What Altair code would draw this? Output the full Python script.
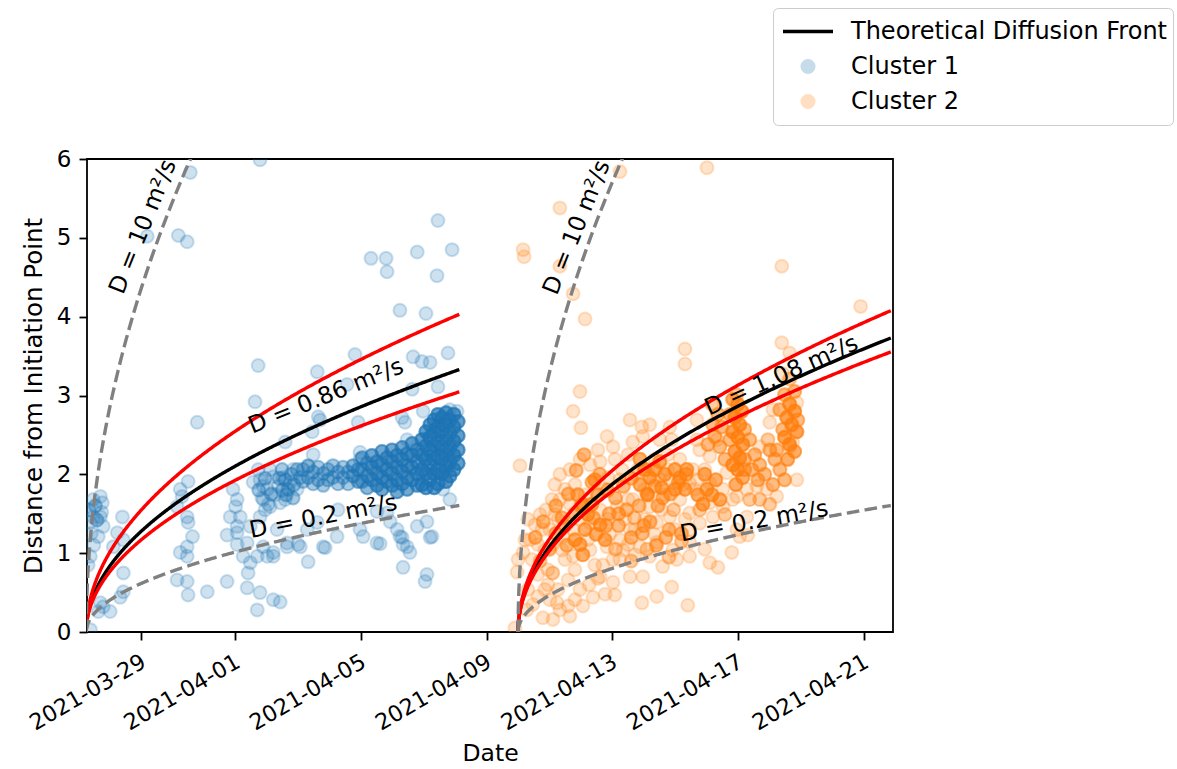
import altair as alt
import numpy as np
import pandas as pd

ORIGIN = pd.Timestamp("2021-03-27 00:00")

# ---------------------------------------------------------------------------
# Events: days after 2021-03-27 00:00 and distance from initiation point (km)
# ---------------------------------------------------------------------------
c1_day = [0.32, 0.39, 0.39, 0.48, 0.71, 0.77, 0.71, 0.80, 0.64, 0.48, 0.39, 0.71, 0.80, 1.02, 0.64,
          1.41, 1.25, 1.44, 1.12, 1.44, 1.44, 1.34, 2.20, 3.19, 3.47, 3.57, 3.79, 3.25, 3.31, 3.50,
          3.15, 3.47, 3.50, 3.64, 3.47, 3.25, 3.47, 3.15, 3.47, 3.50, 4.11, 4.74, 5.79, 5.73, 5.63,
          4.93, 5.06, 4.84, 5.06, 4.74, 5.06, 5.25, 5.48, 5.41, 5.38, 5.79, 5.70, 6.21, 6.02, 6.21,
          6.65, 5.01, 5.16, 5.06, 5.57, 5.89, 6.21, 6.37, 5.89, 6.11, 5.79, 6.43, 6.75, 6.97, 7.29,
          7.61, 6.33, 6.65, 7.07, 7.80, 8.24, 8.97, 9.51, 10.24, 10.47, 11.20, 5.89, 5.48, 5.38, 6.21,
          5.70, 7.61, 8.81, 10.66, 10.94, 11.20, 11.77, 10.63, 11.45, 6.59, 7.45, 7.70, 8.91, 7.48, 8.97,
          10.40, 10.31, 10.98, 11.83, 12.06, 10.47, 11.20, 11.45, 10.79, 11.90, 9.32, 9.80, 9.83, 11.42, 10.24,
          11.07, 8.27, 7.00, 7.86, 7.32, 9.07, 9.61, 10.15, 10.31, 10.34, 10.56, 11.10, 11.26, 10.79, 10.34,
          11.10, 11.04, 11.83, 11.61, 6.43, 9.83, 9.93, 9.51, 8.56, 7.64, 6.84, 7.32, 8.97, 5.79, 6.02,
          6.27, 6.52, 6.11, 5.73, 6.59, 5.95]
c1_km = [0.85, 0.96, 1.39, 1.46, 1.72, 1.64, 1.46, 1.34, 1.21, 1.68, 0.03, 0.37, 0.32, 0.26, 0.26,
         1.46, 1.26, 1.17, 1.08, 0.75, 0.51, 0.44, 5.02, 5.03, 4.95, 5.83, 2.66, 1.81, 1.72, 1.91,
         1.59, 1.46, 1.39, 1.21, 1.08, 1.01, 0.96, 0.66, 0.64, 0.47, 0.51, 0.64, 5.99, 3.38, 2.92,
         1.81, 1.68, 1.46, 1.34, 1.23, 1.11, 0.96, 0.88, 0.75, 0.56, 0.50, 0.28, 0.41, 0.96, 1.01,
         1.08, 1.59, 1.46, 1.26, 1.90, 1.85, 1.97, 1.85, 1.68, 1.59, 1.46, 1.64, 1.90, 1.81, 1.30,
         1.39, 1.30, 1.13, 1.08, 1.08, 1.21, 1.30, 1.13, 1.21, 1.08, 1.20, 1.08, 1.34, 1.13, 0.96,
         0.96, 3.30, 3.52, 3.49, 3.43, 3.42, 3.54, 3.08, 3.11, 2.41, 2.54, 2.69, 2.66, 2.25, 2.19,
         2.66, 2.72, 2.80, 2.82, 2.80, 2.44, 2.44, 5.22, 4.82, 4.85, 4.74, 4.74, 4.57, 4.52, 4.08,
         4.04, 1.55, 1.11, 1.07, 0.89, 1.21, 1.12, 1.30, 1.20, 1.11, 1.01, 1.40, 1.21, 1.34, 0.82,
         0.73, 0.64, 1.68, 1.81, 0.38, 1.51, 1.40, 1.53, 3.14, 2.73, 2.06, 2.10, 2.28, 1.93, 1.81,
         1.74, 1.96, 2.06, 2.06, 1.68, 1.55]

# Tightly packed events: position and how many events sit there
c1_dense_day = [0.35, 0.55, 0.60, 0.42, 0.75, 0.50,
                5.75, 5.95, 6.15, 6.40, 6.05, 6.50, 5.85,
                6.49, 6.59, 6.68, 6.78, 6.87, 6.97, 7.07, 6.62, 6.84,
                7.16, 7.16, 7.32, 7.32, 7.48, 7.48, 7.64, 7.64, 7.80, 7.80, 7.95, 7.95,
                8.11, 8.11, 8.27, 8.27, 8.43, 8.43, 8.59, 8.59, 8.75, 8.75, 8.91, 8.91,
                9.04, 9.04, 9.04, 9.20, 9.20, 9.20, 9.35, 9.35, 9.35, 9.51, 9.51, 9.51,
                9.67, 9.67, 9.67, 9.67, 9.83, 9.83, 9.83, 9.99, 9.99, 9.99, 9.99,
                10.15, 10.15, 10.15, 10.15, 10.31, 10.31, 10.31, 10.31, 10.47, 10.47, 10.47, 10.47,
                10.63, 10.63, 10.63, 10.63, 10.79, 10.79, 10.79, 10.79,
                10.94, 10.94, 10.94, 10.94, 11.07, 11.07, 11.07, 11.07, 11.07,
                11.20, 11.20, 11.20, 11.20, 11.20, 11.33, 11.33, 11.33, 11.33, 11.33, 11.33,
                11.45, 11.45, 11.45, 11.45, 11.45, 11.45, 11.58, 11.58, 11.58, 11.58, 11.58,
                11.71, 11.71, 11.71, 11.71, 11.71, 11.71, 11.83, 11.83, 11.83, 11.83, 11.83,
                11.96, 11.96, 11.96, 11.96, 11.96, 12.09, 12.09, 12.09, 12.09]
c1_dense_km = [1.55, 1.60, 1.42, 1.25, 1.52, 1.10,
               1.80, 1.95, 1.75, 1.95, 1.62, 1.80, 1.70,
               2.06, 1.93, 1.81, 2.00, 1.87, 2.06, 1.96, 1.74, 1.70,
               2.06, 1.91, 2.11, 1.96, 2.03, 1.88, 2.09, 1.93, 2.01, 1.86, 2.06, 1.93,
               2.11, 1.96, 2.03, 1.88, 2.09, 1.96, 2.03, 1.88, 2.11, 1.98, 2.06, 1.91,
               2.21, 2.06, 1.91, 2.14, 1.98, 1.83, 2.24, 2.09, 1.93, 2.16, 2.01, 1.86,
               2.29, 2.12, 1.96, 1.81, 2.21, 2.06, 1.91, 2.31, 2.16, 2.01, 1.86,
               2.24, 2.09, 1.93, 1.78, 2.34, 2.19, 2.04, 1.88, 2.26, 2.11, 1.96, 1.81,
               2.39, 2.24, 2.09, 1.93, 2.31, 2.16, 2.01, 1.86,
               2.44, 2.25, 2.06, 1.87, 2.54, 2.36, 2.19, 2.01, 1.83,
               2.63, 2.47, 2.29, 2.11, 1.93, 2.69, 2.53, 2.36, 2.19, 2.01, 1.83,
               2.76, 2.60, 2.42, 2.24, 2.06, 1.88, 2.72, 2.54, 2.36, 2.19, 2.01,
               2.78, 2.62, 2.44, 2.26, 2.09, 1.91, 2.69, 2.52, 2.34, 2.16, 1.98,
               2.76, 2.60, 2.42, 2.24, 2.06, 2.67, 2.49, 2.31, 2.14]
c1_dense_n = [2, 2, 2, 1, 1, 1,
              2, 2, 2, 2, 1, 2, 1,
              2, 2, 2, 2, 2, 2, 2, 2, 2,
              2, 2, 2, 2, 2, 2, 2, 2, 2, 2, 2, 2,
              2, 2, 2, 2, 2, 2, 2, 2, 3, 3, 3, 3,
              3, 3, 3, 3, 3, 3, 4, 4, 4, 4, 4, 4,
              4, 4, 4, 4, 4, 4, 4, 4, 4, 4, 4,
              4, 4, 4, 4, 4, 4, 4, 4, 4, 4, 4, 4,
              4, 4, 4, 4, 4, 4, 4, 4,
              5, 5, 5, 5, 5, 5, 5, 5, 5,
              5, 5, 5, 5, 5, 5, 5, 5, 5, 5, 5,
              5, 5, 5, 5, 5, 5, 5, 5, 5, 5, 5,
              5, 5, 5, 5, 5, 5, 5, 5, 5, 5, 5,
              5, 5, 5, 5, 5, 5, 5, 5, 5]

c2_day = [14.16, 14.19, 15.33, 15.33, 15.75, 16.13, 17.24, 20.01, 19.31, 19.31, 15.97, 15.75, 16.00,
          22.39, 24.90, 22.39, 22.64, 14.06, 16.61, 16.83, 17.02, 17.94, 17.97, 17.65, 18.83, 18.89,
          13.90, 14.00, 13.97, 14.16, 14.38, 14.54, 14.70, 14.31, 14.47, 14.63, 14.85, 14.79, 15.11,
          15.01, 14.95, 14.85, 15.01, 15.17, 15.33, 15.11, 15.27, 15.24, 15.43, 15.49, 15.59, 15.59,
          15.65, 16.06, 15.97, 15.81, 15.75, 15.75, 15.65, 15.49, 15.81, 15.33, 15.17, 16.13, 15.97,
          16.22, 16.29, 16.29, 16.44, 16.54, 16.61, 16.38, 16.77, 16.61, 16.77, 16.86, 16.92, 16.83,
          17.02, 17.02, 17.15, 17.24, 17.24, 17.34, 17.40, 17.50, 17.56, 17.56, 17.65, 17.72, 17.81,
          17.88, 17.94, 17.97, 18.03, 18.13, 18.19, 18.19, 18.29, 18.35, 18.41, 18.41, 18.41, 18.51,
          18.60, 18.67, 18.76, 18.83, 18.83, 18.89, 18.92, 19.05, 19.15, 19.24, 19.40, 19.46, 19.46,
          19.46, 19.46, 19.46, 19.56, 19.62, 19.69, 19.78, 19.78, 19.94, 19.94, 20.10, 20.10, 20.10,
          20.10, 20.20, 20.33, 20.36, 20.52, 20.52, 20.64, 20.80, 20.83, 20.96, 20.96, 21.05, 21.28,
          21.28, 21.31, 21.60, 21.69, 21.92, 22.01, 22.11, 22.23, 22.64, 22.74, 22.87, 22.87,
          14.22, 14.31, 14.44, 14.63, 14.76, 14.89, 15.08, 15.27, 15.40, 14.95, 14.63, 14.28, 15.33,
          15.81, 16.26, 16.70, 17.08, 17.24, 17.50, 17.72, 18.03, 18.35, 18.57, 18.99, 19.31,
          16.54, 16.29, 17.08, 17.31, 17.50, 17.72, 16.86, 15.97, 15.65,
          17.56, 18.19, 18.51, 18.76, 19.15, 19.69, 19.69]
c2_km = [4.85, 4.76, 5.38, 4.64, 4.29, 3.97, 5.84, 5.89, 3.59, 3.40, 3.05, 2.80, 2.59,
         4.64, 4.13, 3.67, 3.54, 2.11, 2.16, 2.48, 2.35, 2.60, 2.48, 2.41, 2.60, 2.44,
         0.05, 0.92, 0.76, 1.01, 1.17, 1.36, 1.49, 0.54, 0.35, 0.45, 0.54, 0.18, 0.16,
         0.41, 0.79, 1.04, 1.30, 1.49, 1.68, 1.11, 0.54, 0.37, 1.21, 0.92, 0.66, 0.33,
         0.20, 0.33, 0.54, 0.79, 1.30, 0.96, 1.62, 1.81, 1.87, 2.00, 1.87, 1.74, 1.43,
         1.17, 1.39, 1.04, 0.85, 0.68, 0.70, 0.44, 0.48, 1.55, 1.81, 1.43, 1.24, 1.08,
         0.92, 0.63, 1.59, 1.93, 1.17, 1.04, 1.43, 1.68, 1.30, 0.70, 1.68, 0.98, 2.06,
         1.08, 0.37, 0.70, 1.81, 2.06, 1.59, 0.96, 1.93, 2.19, 1.39, 1.14, 0.45, 1.93,
         0.83, 1.74, 2.06, 1.93, 1.46, 0.57, 1.04, 0.92, 1.68, 1.87, 0.34, 1.89, 1.51,
         1.14, 1.30, 0.96, 2.06, 1.81, 1.93, 2.31, 1.38, 2.06, 1.05, 2.23, 1.89, 1.64,
         0.88, 1.46, 2.44, 0.82, 1.81, 1.59, 2.02, 1.01, 1.68, 1.72, 1.30, 1.21, 1.81,
         1.46, 1.23, 1.85, 2.35, 1.81, 2.66, 2.82, 1.72, 2.34, 2.41, 2.91, 1.93,
         1.17, 1.43, 0.92, 1.11, 1.30, 1.55, 1.68, 1.43, 1.04, 0.60, 0.73, 0.28, 0.28,
         0.41, 0.60, 0.85, 0.47, 0.92, 1.11, 1.30, 1.43, 1.24, 1.55, 1.30, 1.43,
         2.31, 2.12, 2.19, 2.06, 2.25, 2.00, 1.96, 2.19, 2.06,
         2.69, 2.63, 2.44, 2.25, 2.19, 2.44, 2.69]

c2_dense_day = [20.83, 20.99, 21.12, 20.90, 21.05, 20.83, 20.99, 21.15, 20.90, 21.05, 20.83, 20.99,
                21.15, 20.93, 20.74, 21.21, 20.74, 21.21, 20.96,
                22.64, 22.80, 22.55, 22.71, 22.87, 22.48, 22.64, 22.80, 22.58, 22.42, 22.64, 22.80,
                22.48, 22.33, 22.42, 22.90, 22.23, 22.33, 22.48,
                20.17, 20.36, 20.48, 20.26, 20.42, 20.58, 20.20, 20.04,
                21.37, 21.53, 21.69, 21.85, 22.01, 22.17, 21.44, 21.63, 21.95, 22.11, 21.21, 21.37,
                21.69, 22.01,
                19.72, 19.88, 20.01, 20.17, 20.29, 20.42, 20.58, 19.78, 19.94,
                17.88, 18.03, 18.19, 18.35, 18.51, 18.67, 18.99, 19.15, 19.31, 19.37, 18.99, 18.57,
                18.13, 17.88,
                15.90, 16.06, 16.22, 16.13, 15.97, 16.35, 16.48, 16.06, 15.81, 16.61, 16.77, 16.44,
                16.54,
                14.55, 14.80, 15.00, 15.20, 15.40, 15.55, 14.70, 15.10,
                16.90, 17.20, 17.45, 17.70, 17.95, 18.20, 18.45, 18.70, 18.95, 19.20, 17.10, 17.60,
                18.10, 18.80,
                15.60, 15.85, 16.10, 16.35, 16.60, 16.85, 17.10, 17.35, 17.60, 17.85, 18.10, 18.35,
                18.60, 18.85, 19.10, 19.35, 16.00, 16.40, 16.80, 17.20, 17.60, 18.00, 18.40, 18.80,
                19.20, 15.20, 15.50, 15.80]
c2_dense_km = [2.95, 2.89, 2.80, 2.72, 2.63, 2.54, 2.47, 2.38, 2.29, 2.21, 2.12, 2.06,
               1.96, 1.87, 2.44, 2.57, 2.76, 2.19, 3.01,
               2.89, 2.80, 2.72, 2.63, 2.54, 2.47, 2.38, 2.29, 2.19, 3.28, 3.21, 3.05,
               3.01, 2.82, 2.57, 2.69, 2.31, 2.06, 1.93,
               2.89, 2.76, 2.60, 2.48, 2.35, 2.19, 2.63, 2.38,
               2.44, 2.25, 2.12, 2.00, 2.31, 2.19, 2.06, 1.93, 2.44, 1.87, 2.06, 1.68,
               1.68, 1.62,
               1.74, 1.62, 1.81, 1.74, 1.93, 1.68, 1.49, 1.55, 2.00,
               2.19, 2.06, 1.96, 2.06, 2.16, 2.00, 2.06, 1.96, 1.81, 2.06, 1.81, 1.83,
               1.74, 1.87,
               1.74, 1.62, 1.49, 1.30, 1.11, 1.62, 1.24, 0.98, 1.17, 1.36, 1.17, 1.93,
               1.74,
               1.20, 1.40, 1.05, 1.25, 1.45, 1.10, 0.90, 0.75,
               1.50, 1.35, 1.55, 1.45, 1.25, 1.40, 1.60, 1.20, 1.55, 1.15, 1.05, 0.90,
               1.05, 0.95,
               1.75, 2.05, 2.25, 1.90, 2.00, 1.80, 1.70, 1.85, 1.95, 1.60, 1.75, 1.85,
               1.70, 1.75, 1.90, 2.00, 1.60, 1.45, 1.35, 1.50, 1.20, 1.35, 1.10, 1.30,
               1.25, 1.60, 1.35, 1.50]
c2_dense_n = [4, 5, 5, 5, 5, 5, 5, 5, 5, 5, 5, 5,
              4, 4, 3, 3, 3, 3, 2,
              5, 5, 5, 5, 5, 5, 5, 4, 4, 1, 2, 3,
              3, 3, 3, 3, 3, 3, 3,
              2, 3, 3, 3, 3, 3, 3, 3,
              3, 3, 3, 3, 3, 3, 3, 3, 2, 3, 3, 2,
              2, 2,
              4, 4, 4, 4, 4, 4, 2, 2, 4,
              4, 4, 4, 4, 4, 4, 4, 4, 4, 4, 4, 4,
              4, 4,
              4, 4, 4, 4, 4, 4, 4, 4, 4, 4, 4, 4,
              4,
              3, 3, 3, 3, 3, 3, 2, 2,
              3, 3, 3, 2, 3, 3, 3, 3, 2, 2, 2, 2,
              2, 2,
              3, 3, 3, 3, 3, 3, 3, 3, 3, 3, 3, 3,
              3, 3, 3, 3, 3, 3, 3, 3, 3, 3, 3, 3,
              3, 3, 3, 3]

# ---------------------------------------------------------------------------
# Diffusion fronts r = sqrt(4 * pi * D * t), D in m^2/s
# ---------------------------------------------------------------------------
c1_start_day, c1_end_day = 0.26, 12.13
c2_start_day, c2_end_day = 14.00, 25.86
c1_fit_D = 0.86
c1_bound_D = [1.26, 0.72]
c2_fit_D = 1.08
c2_bound_D = [1.29, 0.98]
reference_D = [10, 0.2]

tick_dates = ["2021-03-29", "2021-04-01", "2021-04-05", "2021-04-09",
              "2021-04-13", "2021-04-17", "2021-04-21"]
x_min_day, x_max_day = 0.283, 25.93
y_ticks = [0, 1, 2, 3, 4, 5, 6]

# Curve annotations
note_text = ["D = 10 m²/s", "D = 0.86 m²/s", "D = 0.2 m²/s",
             "D = 10 m²/s", "D = 1.08 m²/s", "D = 0.2 m²/s"]
note_day = [2.07, 7.89, 7.80, 15.87, 22.38, 21.51]
note_km = [5.14, 2.99, 1.46, 5.13, 3.25, 1.40]
note_angle = [292, 338, 349, 292, 336, 350]

FRONT = "Theoretical Diffusion Front"
series_names = [FRONT, "Cluster 1", "Cluster 2"]
series_colors = ["black", "#1f77b4", "#ff7f0e"]
FONT = "DejaVu Sans"


def to_time(days):
    return ORIGIN + pd.to_timedelta(np.asarray(days, dtype=float), unit="D")


def to_dt(ts):
    return alt.DateTime(year=ts.year, month=ts.month, date=ts.day,
                        hours=ts.hour, minutes=ts.minute, seconds=ts.second)


def events(day, km, count, name):
    df = pd.DataFrame({"day": day, "km": km, "n": count})
    df = df.loc[df.index.repeat(df["n"])].reset_index(drop=True)
    return pd.DataFrame({"time": to_time(df["day"]), "km": df["km"], "series": name})


def front(D, start, end, name):
    u = np.linspace(0.0, 1.0, 400) ** 2
    days = start + (end - start) * u
    seconds = (days - start) * 86400.0
    return pd.DataFrame({"time": to_time(days),
                         "km": np.sqrt(4 * np.pi * D * seconds) / 1000.0,
                         "curve": name})


points = pd.concat([
    events(c1_day, c1_km, [1] * len(c1_day), "Cluster 1"),
    events(c1_dense_day, c1_dense_km, c1_dense_n, "Cluster 1"),
    events(c2_day, c2_km, [1] * len(c2_day), "Cluster 2"),
    events(c2_dense_day, c2_dense_km, c2_dense_n, "Cluster 2"),
], ignore_index=True)

fit = pd.concat([front(c1_fit_D, c1_start_day, c1_end_day, "c1"),
                 front(c2_fit_D, c2_start_day, c2_end_day, "c2")], ignore_index=True)
fit["series"] = FRONT

bounds = pd.concat(
    [front(D, c1_start_day, c1_end_day, f"c1-{D}") for D in c1_bound_D]
    + [front(D, c2_start_day, c2_end_day, f"c2-{D}") for D in c2_bound_D],
    ignore_index=True)

refs = pd.concat(
    [front(D, c1_start_day, c1_end_day, f"c1-{D}") for D in reference_D]
    + [front(D, c2_start_day, c2_end_day, f"c2-{D}") for D in reference_D],
    ignore_index=True)

notes = pd.DataFrame({"time": to_time(note_day), "km": note_km,
                      "text": note_text, "angle": note_angle})

# ---------------------------------------------------------------------------
# Encodings
# ---------------------------------------------------------------------------
x_enc = alt.X("time:T", title="Date",
              scale=alt.Scale(domain=[to_dt(to_time([x_min_day])[0]),
                                      to_dt(to_time([x_max_day])[0])]),
              axis=alt.Axis(values=[to_dt(pd.Timestamp(d)) for d in tick_dates],
                            format="%Y-%m-%d", labelAngle=330, labelAlign="right",
                            labelBaseline="top", labelPadding=10, labelOffset=-3,
                            labelFontSize=22.3,
                            labelOverlap=False, labelBound=False, labelFlush=False,
                            titleFontSize=23.5, titlePadding=7))
y_enc = alt.Y("km:Q", title="Distance from Initiation Point",
              scale=alt.Scale(domain=[0, 6], nice=False, zero=False),
              axis=alt.Axis(values=y_ticks, labelPadding=8, titleFontSize=24.5,
                            titlePadding=10))

is_front = f"(datum.value || datum) === '{FRONT}'"
symbol_color = (f"{is_front} ? 'black' : "
                "((datum.value || datum) === 'Cluster 1' ? '#1f77b4' : '#ff7f0e')")
legend = alt.Legend(
    title=None, orient="none", legendX=686, legendY=-151, direction="vertical", columns=1,
    symbolType={"expr": f"{is_front} ? 'stroke' : 'circle'"},
    symbolSize={"expr": f"{is_front} ? 2500 : 169"},
    symbolStrokeWidth={"expr": f"{is_front} ? 3.4 : 2"},
    symbolOpacity={"expr": f"{is_front} ? 1 : 0.25"},
    symbolStrokeColor={"expr": symbol_color},
    symbolFillColor={"expr": symbol_color},
    symbolOffset=17,
    labelFont=FONT, labelFontSize=24, labelColor="black", labelLimit=600, labelOffset=31,
    padding=6, strokeColor="#cccccc", fillColor="white", cornerRadius=5,
    clipHeight=35, rowPadding=0,
)
color_scale = alt.Scale(domain=series_names, range=series_colors)

scatter = alt.Chart(points).mark_point(
    filled=True, size=169, fillOpacity=0.22, strokeOpacity=0.22, strokeWidth=2, clip=True
).encode(
    x=x_enc, y=y_enc,
    color=alt.Color("series:N", scale=color_scale, legend=legend),
    stroke=alt.Stroke("series:N", scale=alt.Scale(domain=series_names, range=series_colors),
                      legend=None),
)

fit_lines = alt.Chart(fit).mark_line(strokeWidth=3.4, clip=True).encode(
    x=x_enc, y=y_enc, detail="curve:N",
    color=alt.Color("series:N", scale=color_scale, legend=legend),
)

bound_lines = alt.Chart(bounds).mark_line(color="red", strokeWidth=3.4, clip=True).encode(
    x=x_enc, y=y_enc, detail="curve:N")

ref_lines = alt.Chart(refs).mark_line(
    color="#808080", strokeWidth=3.4, strokeDash=[12.6, 5.4], clip=True
).encode(x=x_enc, y=y_enc, detail="curve:N")

labels = alt.Chart(notes).mark_text(
    font=FONT, fontSize=23.5, color="black", align="center", baseline="middle"
).encode(x=x_enc, y=y_enc, text="text:N", angle=alt.Angle("angle:Q", scale=None))

chart = alt.layer(scatter, fit_lines, bound_lines, ref_lines, labels).properties(
    width=806, height=473,
    autosize=alt.AutoSizeParams(type="none"),
    padding={"left": 87, "top": 159, "right": 284, "bottom": 137},
).configure_view(
    stroke="black", strokeWidth=1.8
).configure_axis(
    labelFont=FONT, labelFontSize=23, labelColor="black",
    titleFont=FONT, titleFontWeight="normal", titleColor="black",
    tickColor="black", tickWidth=1.8, tickSize=8, domain=False, grid=False,
)

chart.save("out.html", embed_options={"renderer": "svg", "actions": False})
